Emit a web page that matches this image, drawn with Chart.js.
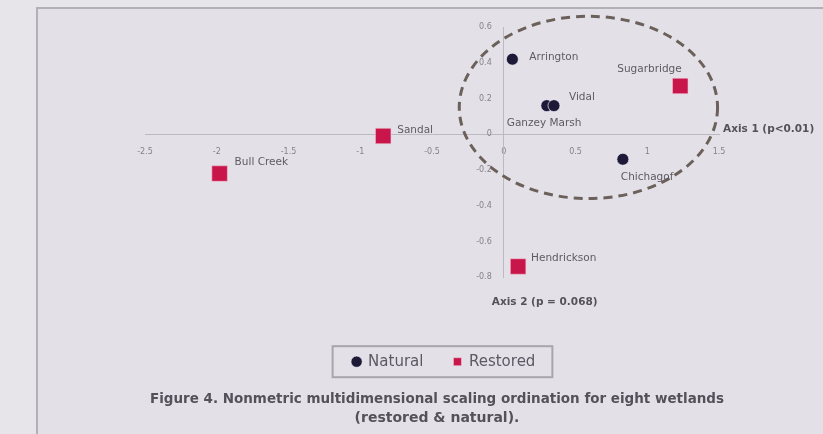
<!DOCTYPE html>
<html lang="en">
<head>
<meta charset="UTF-8">
<title>NMS ordination</title>
<script src="https://cdn.jsdelivr.net/npm/chart.js"></script>
<style>
  html, body { margin: 0; padding: 0; background: #e8e5ea; }
  body { width: 823px; height: 434px; overflow: hidden; position: relative; }
  #frame {
    position: absolute; left: 36px; top: 7px; width: 800px; height: 440px;
    border-top: 2px solid #b3afb7; border-left: 2px solid #b3afb7;
    background: #e3e1e7;
  }
  #wrap { position: absolute; left: 0; top: 0; width: 823px; height: 434px; filter: blur(0.4px); }
</style>
</head>
<body>
<div id="frame"></div>
<div id="wrap"><canvas id="nmsChart"></canvas></div>
<script>
// axis ranges / ticks
var xTicks = [-2.5, -2, -1.5, -1, -0.5, 0, 0.5, 1, 1.5];
var yTicks = [-0.8, -0.6, -0.4, -0.2, 0, 0.2, 0.4, 0.6];

// natural wetlands
var naturalNames = ['Arrington', 'Ganzey Marsh', 'Vidal', 'Chichagof'];
var naturalAxis1 = [0.06, 0.30, 0.35, 0.83];
var naturalAxis2 = [0.42, 0.16, 0.16, -0.14];

// restored wetlands
var restoredNames = ['Sugarbridge', 'Sandal', 'Bull Creek', 'Hendrickson'];
var restoredAxis1 = [1.23, -0.84, -1.98, 0.10];
var restoredAxis2 = [0.27, -0.01, -0.22, -0.74];

// label offsets from the marker, px
var naturalLabelPos = [[17, -2], [-40, 18], [15, -8], [-2, 18]];
var restoredLabelPos = [[-63, -17], [14, -6], [15, -11], [13, -8]];

var FONT = '"DejaVu Sans", "Liberation Sans", sans-serif';

function toPoints(xs, ys) {
    return xs.map(function (x, i) { return { x: x, y: ys[i] }; });
}

function tickText(v) {
    return String(+v.toFixed(1));
}

// dashed ellipse round the natural group (data units)
var groupRing = { cx: 0.59, cy: 0.15, rx: 0.90, ry: 0.51 };

var ringPlugin = {
    id: 'ring',
    beforeDatasetsDraw: function (chart) {
        var sx = chart.scales.x, sy = chart.scales.y;
        var cx = sx.getPixelForValue(groupRing.cx);
        var cy = sy.getPixelForValue(groupRing.cy);
        var rx = Math.abs(sx.getPixelForValue(groupRing.cx + groupRing.rx) - cx);
        var ry = Math.abs(sy.getPixelForValue(groupRing.cy + groupRing.ry) - cy);
        var ctx = chart.ctx;
        ctx.save();
        ctx.strokeStyle = '#6b605a';
        ctx.lineWidth = 3;
        ctx.setLineDash([9, 6]);
        ctx.beginPath();
        ctx.ellipse(cx, cy, rx, ry, 0, 0, Math.PI * 2);
        ctx.stroke();
        ctx.restore();
    }
};

var labelPlugin = {
    id: 'pointNames',
    afterDatasetsDraw: function (chart) {
        var ctx = chart.ctx;
        ctx.save();
        ctx.font = '10.5px ' + FONT;
        ctx.fillStyle = '#5e5a64';
        ctx.textBaseline = 'middle';
        chart.data.datasets.forEach(function (ds, i) {
            if (!ds.names) return;
            chart.getDatasetMeta(i).data.forEach(function (pt, j) {
                var off = ds.labelPos[j];
                ctx.fillText(ds.names[j], pt.x + off[0], pt.y + off[1]);
            });
        });
        ctx.restore();
    }
};

// legend and caption sit a little right of the plot centre in the slide
var nudgePlugin = {
    id: 'nudge',
    afterLayout: function (chart) {
        chart.legend.left += 12; chart.legend.right += 12;
        chart.titleBlock.left += 5; chart.titleBlock.right += 5;
    }
};

var axisTitlePlugin = {
    id: 'axisTitles',
    afterDraw: function (chart) {
        var sx = chart.scales.x, sy = chart.scales.y;
        var ctx = chart.ctx;
        ctx.save();
        ctx.font = 'bold 10.5px ' + FONT;
        ctx.fillStyle = '#55515b';
        ctx.textBaseline = 'middle';
        ctx.fillText('Axis 1 (p<0.01)', sx.right + 4, sy.getPixelForValue(0) - 5);
        ctx.fillText('Axis 2 (p = 0.068)', sx.getPixelForValue(0) - 12, sy.bottom + 25);

        // box round the legend
        var hb = chart.legend.legendHitBoxes;
        if (hb && hb.length) {
            var last = hb[hb.length - 1];
            var l = hb[0].left - 20, r = last.left + last.width + 17;
            var t = hb[0].top - 8, b = hb[0].top + hb[0].height + 8;
            ctx.strokeStyle = '#a9a5ad';
            ctx.lineWidth = 2;
            ctx.strokeRect(l, t, r - l, b - t);
        }
        ctx.restore();
    }
};

var ctx = document.getElementById('nmsChart').getContext('2d');
var nmsChart = new Chart(ctx, {
    type: 'scatter',
    data: {
        datasets: [{
            label: 'Natural',
            data: toPoints(naturalAxis1, naturalAxis2),
            names: naturalNames,
            labelPos: naturalLabelPos,
            pointStyle: 'circle',
            pointRadius: 6,
            pointHoverRadius: 6,
            backgroundColor: '#1d1936',
            borderColor: 'rgba(240,240,255,0.7)',
            borderWidth: 1
        }, {
            label: 'Restored',
            data: toPoints(restoredAxis1, restoredAxis2),
            names: restoredNames,
            labelPos: restoredLabelPos,
            pointStyle: 'rect',
            pointRadius: 11,
            pointHoverRadius: 11,
            backgroundColor: '#c9164a',
            borderColor: 'rgba(240,200,220,0.6)',
            borderWidth: 1
        }]
    },
    options: {
        responsive: true,
        maintainAspectRatio: false,
        animation: false,
        layout: { padding: { left: 145, right: 104, top: 27, bottom: 6 } },
        scales: {
            x: {
                type: 'linear',
                position: { y: 0 },
                min: xTicks[0],
                max: xTicks[xTicks.length - 1],
                grid: { display: false, drawTicks: false },
                border: { display: true, color: '#bdb9c1', width: 1 },
                ticks: {
                    stepSize: 0.5,
                    padding: 13,
                    color: '#85818b',
                    font: { size: 8, family: FONT },
                    callback: tickText
                }
            },
            y: {
                type: 'linear',
                position: { x: 0 },
                min: yTicks[0],
                max: yTicks[yTicks.length - 1],
                grid: { display: false, drawTicks: false },
                border: { display: true, color: '#bdb9c1', width: 1 },
                ticks: {
                    stepSize: 0.2,
                    color: '#85818b',
                    font: { size: 8, family: FONT },
                    // labels hang left of the centred axis
                    callback: function (v) { return tickText(v) + '\u2003\u2002'; }
                }
            }
        },
        plugins: {
            tooltip: { enabled: false },
            legend: {
                position: 'bottom',
                labels: {
                    usePointStyle: true,
                    boxWidth: 8,
                    boxHeight: 8,
                    padding: 30,
                    color: '#5c5864',
                    font: { size: 15, family: FONT }
                }
            },
            // empty block: gap between the plot and the legend
            subtitle: {
                display: true,
                position: 'bottom',
                weight: 500,
                text: '',
                font: { size: 10, lineHeight: 1 },
                padding: { top: 0, bottom: 37 }
            },
            title: {
                display: true,
                position: 'bottom',
                text: ['Figure 4. Nonmetric multidimensional scaling ordination for eight wetlands',
                       '(restored & natural).'],
                color: '#55515b',
                font: { size: 14, weight: 'bold', family: FONT, lineHeight: 1.35 },
                padding: { top: 11, bottom: 0 }
            }
        }
    },
    plugins: [nudgePlugin, ringPlugin, labelPlugin, axisTitlePlugin]
});
</script>
</body>
</html>
